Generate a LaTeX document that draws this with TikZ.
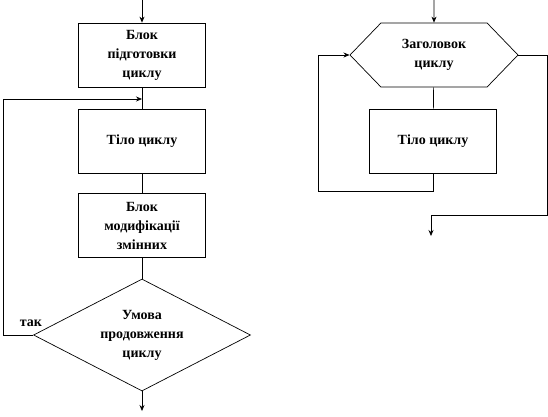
\documentclass[tikz,border=0pt]{standalone}
\usepackage{fontspec}
\setmainfont{Liberation Serif}
\usepackage{tikz}
\usetikzlibrary{shapes.geometric,shapes.symbols,arrows.meta}

\tikzset{
  txt/.style={font=\bfseries\fontsize{14}{19}\selectfont,align=center},
  blok/.style={draw,rectangle,txt,minimum width=127pt,minimum height=64pt,inner sep=0pt},
  umova/.style={draw,diamond,txt,aspect=1.94,minimum width=217pt,minimum height=112pt,inner sep=0pt},
  zagol/.style={draw,signal,signal to=east and west,signal pointer angle=92,txt,
    minimum width=168pt,minimum height=64pt,inner sep=0pt},
  arr/.style={-{Stealth[length=6pt,width=5pt]}}
}

\begin{document}
\begin{tikzpicture}[x=1pt,y=-1pt,line width=0.7pt]
  \useasboundingbox (0,0) rectangle (548,416);
  % left scheme
  \node[blok] (pidg) at (142,55) {Блок\\підготовки\\циклу};
  \node[blok] (tilo) at (142,141) {Тіло циклу};
  \node[blok] (modif) at (142,225.5) {Блок\\модифікації\\змінних};
  \node[umova] (umova) at (142,335) {Умова\\продовження\\циклу};
  \node[txt] (tak) at (31,323) {так};
  \coordinate (vhid1) at (142,0);
  \coordinate (vyhid1) at (142,411);
  \coordinate (zlyv) at (142,99);
  \coordinate (povL) at (3,99);
  \draw[arr] (vhid1) -- (pidg);
  \draw (pidg) -- (tilo);
  \draw (tilo) -- (modif);
  \draw (modif) -- (umova);
  \draw[arr] (umova) -- (vyhid1);
  \draw[arr] (umova.west) -| (povL) -- (zlyv);
  % right scheme
  \node[zagol] (zag) at (434,55) {Заголовок\\циклу};
  \node[blok] (tilo2) at (433,141) {Тіло циклу};
  \coordinate (vhid2) at (434,0);
  \coordinate (povR) at (318,191);
  \coordinate (vyhR) at (547,215);
  \coordinate (vyhid2) at (431,236);
  \draw[arr] (vhid2) -- (zag);
  \draw (zag) -- (tilo2);
  \draw[arr] (tilo2.south) |- (povR) |- (zag.west);
  \draw[arr] (zag.east) -| (vyhR) -| (vyhid2);
\end{tikzpicture}
\end{document}
